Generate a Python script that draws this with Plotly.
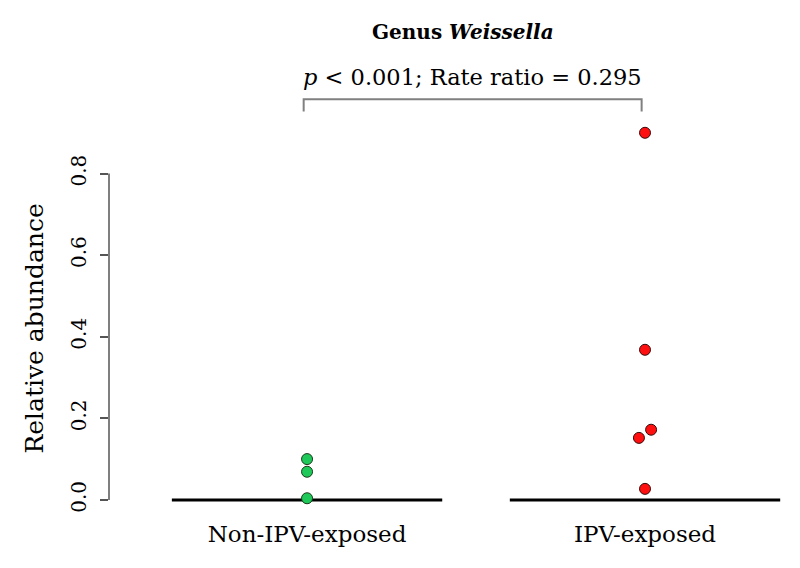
import plotly.graph_objects as go

categories = ["Non-IPV-exposed", "IPV-exposed"]
non_ipv_values = [0.100, 0.069, 0.004]
non_ipv_jitter = [0.0, 0.0, 0.0]
ipv_values = [0.900, 0.368, 0.172, 0.152, 0.027]
ipv_jitter = [0.0, 0.0, 0.018, -0.018, 0.0]
y_ticks = [0.0, 0.2, 0.4, 0.6, 0.8]
y_tick_labels = ["0.0", "0.2", "0.4", "0.6", "0.8"]
title_text = "<b>Genus <i>Weissella</i></b>"
stat_text = "<i>p</i> < 0.001; Rate ratio = 0.295"

SERIF = "DejaVu Serif"
fig = go.Figure()

# baselines under each group
for i, _ in enumerate(categories, start=1):
    fig.add_trace(go.Scatter(x=[i - 0.4, i + 0.4], y=[0, 0], mode="lines",
                             line=dict(color="black", width=3), hoverinfo="skip",
                             showlegend=False))

fig.add_trace(go.Scatter(
    x=[1 + j for j in non_ipv_jitter], y=non_ipv_values, mode="markers",
    marker=dict(size=11, color="#1ec95a", line=dict(color="#1a3a1a", width=1)),
    showlegend=False, cliponaxis=False))
fig.add_trace(go.Scatter(
    x=[2 + j for j in ipv_jitter], y=ipv_values, mode="markers",
    marker=dict(size=11, color="#ff1010", line=dict(color="#3a0a0a", width=1)),
    showlegend=False, cliponaxis=False))

# y axis line (R style, from 0 to 0.8)
fig.add_shape(type="line", xref="paper", x0=0, x1=0, y0=y_ticks[0], y1=y_ticks[-1],
              line=dict(color="#555", width=1.5))

# bracket
fig.add_shape(type="path", xref="x", yref="y",
              path="M 0.99,0.952 L 0.99,0.982 L 1.99,0.982 L 1.99,0.952",
              line=dict(color="#808080", width=2))

fig.add_annotation(text=title_text, xref="paper", yref="paper", x=0.52, y=1, yshift=60,
                   showarrow=False, font=dict(family=SERIF, size=20, color="black"),
                   xanchor="center", yanchor="middle")
fig.add_annotation(text=stat_text, xref="x", yref="paper", x=1.49, y=1, yshift=15,
                   showarrow=False, font=dict(family=SERIF, size=22.5, color="black"),
                   xanchor="center", yanchor="middle")
fig.add_annotation(text="Relative abundance", xref="paper", yref="y", x=0, xshift=-74,
                   y=0.42, textangle=-90, showarrow=False, xanchor="center",
                   font=dict(family=SERIF, size=25, color="black"))

fig.update_layout(
    width=792, height=560,
    margin=dict(l=101, r=10, t=84, b=62),
    paper_bgcolor="white", plot_bgcolor="white",
    xaxis=dict(range=[0.414, 2.429], tickvals=[1, 2], ticktext=categories,
               showgrid=False, zeroline=False, showline=False, ticks="",
               tickfont=dict(family=SERIF, size=23, color="black"),
               ticklabelstandoff=12),
    yaxis=dict(range=[-0.015, 1.0], tickvals=y_ticks, ticktext=y_tick_labels,
               showgrid=False, zeroline=False, showline=False,
               ticks="outside", ticklen=8, tickcolor="#555", tickwidth=1.5,
               tickangle=-90, tickfont=dict(family=SERIF, size=20, color="black"),
               ticklabelstandoff=6),
)

fig.write_html("out.html")
